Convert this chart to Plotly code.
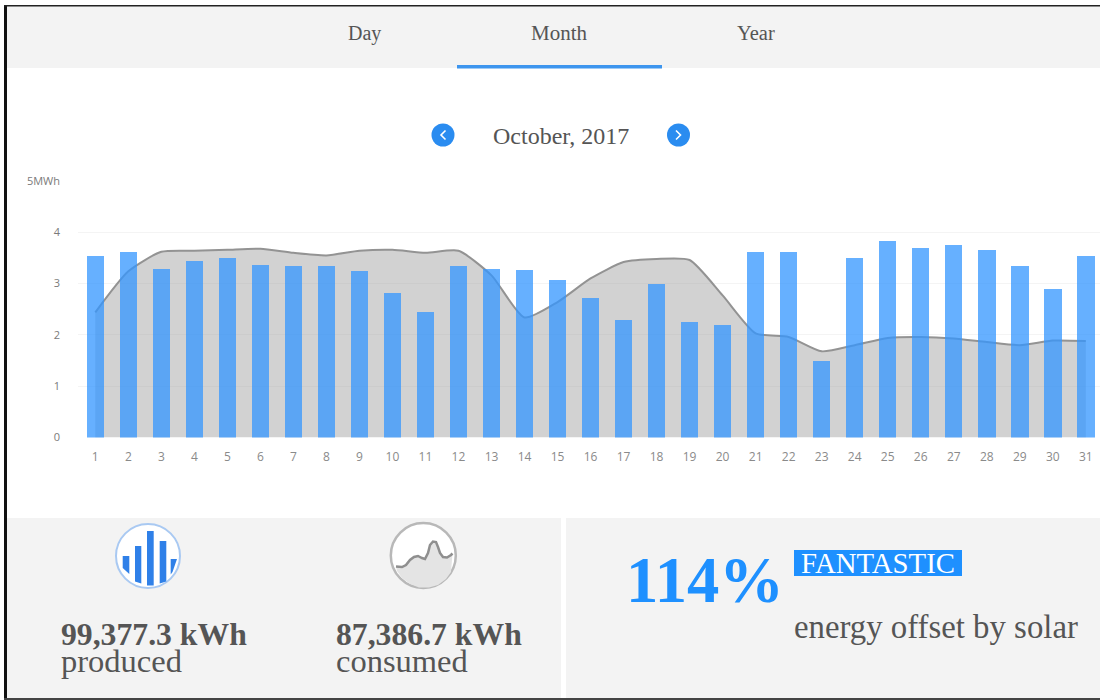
import plotly.graph_objects as go

days = list(range(1, 32))
produced_mwh = [3.53, 3.62, 3.28, 3.44, 3.49, 3.37, 3.35, 3.35, 3.24, 2.81, 2.44, 3.35, 3.28, 3.26, 3.08, 2.71,
                2.30, 3.00, 2.26, 2.19, 3.61, 3.62, 1.50, 3.50, 3.83, 3.69, 3.76, 3.65, 3.35, 2.90, 3.53]
consumed_mwh = [2.44, 3.24, 3.62, 3.64, 3.66, 3.68, 3.60, 3.55, 3.64, 3.66, 3.60, 3.64, 3.16, 2.34, 2.64, 3.10,
                3.42, 3.48, 3.46, 2.77, 2.03, 1.96, 1.68, 1.80, 1.94, 1.96, 1.93, 1.86, 1.80, 1.89, 1.88]
y_ticks = [0, 1, 2, 3, 4, 5]
y_tick_labels = ["0", "1", "2", "3", "4", "5MWh"]
tabs = ["Day", "Month", "Year"]
period = "October, 2017"
produced_text = "99,377.3 kWh"
consumed_text = "87,386.7 kWh"
offset_text = "114%"

W, H = 1100, 700
SERIF = "Liberation Serif"
SANS = "Open Sans"
TXT = "#555555"
BLUE = "#2a8cf0"
BRIGHT = "#1e90ff"


def fx(x):
    return x / W


def fy(y):
    return 1 - y / H


def rect(x0, y0, x1, y1, color):
    return dict(type="rect", xref="paper", yref="paper", x0=fx(x0), x1=fx(x1), y0=fy(y0), y1=fy(y1),
                fillcolor=color, line_width=0, layer="below")


def circle(cx, cy, r, fill, line, lw):
    return dict(type="circle", xref="paper", yref="paper", x0=fx(cx - r), x1=fx(cx + r), y0=fy(cy + r), y1=fy(cy - r),
                fillcolor=fill, line=dict(color=line, width=lw), layer="below")


def path(points, fill=None, line=None, lw=0, close=False):
    d = "M" + " L".join(f"{fx(x):.5f},{fy(y):.5f}" for x, y in points) + (" Z" if close else "")
    s = dict(type="path", xref="paper", yref="paper", path=d, layer="below", line=dict(width=lw))
    if fill:
        s["fillcolor"] = fill
    if line:
        s["line"] = dict(color=line, width=lw)
    return s


def text(x, y, s, size, color=TXT, anchor="left", bold=False, font=SERIF):
    return dict(xref="paper", yref="paper", x=fx(x), y=fy(y), text=f"<b>{s}</b>" if bold else s, showarrow=False,
                xanchor=anchor, yanchor="middle", font=dict(family=font, size=size, color=color), borderpad=0, borderwidth=0)


fig = go.Figure()
fig.add_trace(go.Scatter(x=days, y=consumed_mwh, mode="lines", name="consumed", fill="tozeroy",
                         fillcolor="rgba(160,160,160,0.48)", line=dict(color="#939393", width=2, shape="spline", smoothing=0.6),
                         hoverinfo="skip", showlegend=False))
fig.add_trace(go.Bar(x=days, y=produced_mwh, name="produced", yaxis="y2", width=0.53,
                     marker=dict(color="rgba(51,150,255,0.75)", line_width=0), hoverinfo="skip", showlegend=False))

shapes = [
    rect(0, 0, W, H, "#ffffff"),
    rect(7, 6, W, 68, "#f3f3f3"),
    rect(457, 65, 662, 68.5, "#3d95ee"),
    rect(7, 518, 561, 698, "#f3f3f3"),
    rect(566, 518, W, 698, "#f3f3f3"),
    rect(4, 5, 7, H, "#111111"),
    rect(4, 5, W, 6.5, "#222222"),
    rect(4, 698, W, H, "#444444"),
    circle(443, 135, 11.5, BLUE, BLUE, 0),
    circle(678.5, 135, 11.5, BLUE, BLUE, 0),
    path([(445.5, 130.5), (441, 135), (445.5, 139.5)], line="#ffffff", lw=1.6),
    path([(676, 130.5), (680.5, 135), (676, 139.5)], line="#ffffff", lw=1.6),
    # produced icon
    circle(148, 556, 32, "#ffffff", "#a9c9f2", 2),
]
icon_bars = [[(122.7, 556), (129.3, 556), (129.3, 574), (122.7, 568)],
             [(135, 546), (141.3, 546), (141.3, 583.5), (135, 581.5)],
             [(147, 531), (153.7, 531), (153.7, 585.5), (147, 585.5)],
             [(159.7, 541), (166.3, 541), (166.3, 581.5), (159.7, 583.5)],
             [(170.7, 559), (177, 559), (172.5, 572), (170.7, 574.5)]]
for b in icon_bars:
    shapes.append(path(b, fill="#2f80e8", close=True))

# consumed icon
curve = [(396, 566.5), (402, 567), (406, 565), (410, 560), (414, 557), (418, 556), (422, 558), (425, 559),
         (428, 553), (430, 545), (433, 541.5), (436, 542), (438, 547), (440, 553), (443, 557), (447, 557.5), (451, 555), (452.5, 553.5)]
bottom = [(451, 572), (446, 579), (438, 585), (429, 587.5), (419, 587.5), (410, 584), (402, 578), (397, 571)]
shapes.append(circle(423.3, 555.5, 32.5, "#ffffff", "#b8b8b8", 2.5))
shapes.append(path(curve + bottom, fill="#e4e4e4", close=True))
shapes.append(path(curve, line="#8f8f8f", lw=2.5))
shapes.append(rect(794, 550, 962, 576, BRIGHT))

annotations = [
    text(364, 33, tabs[0], 20, anchor="center"),
    text(559, 33, tabs[1], 21, anchor="center"),
    text(756, 33, tabs[2], 20.5, anchor="center"),
    text(560.5, 136, period, 24, anchor="center"),
    text(61, 634, produced_text, 31.7, bold=True),
    text(61, 661, "produced", 32.5),
    text(336, 634, consumed_text, 31.7, bold=True),
    text(336, 661, "consumed", 32.5),
    text(626, 580, offset_text, 64.6, color=BRIGHT, bold=True),
    text(801, 563, "FANTASTIC", 28.8, color="#ffffff"),
    text(794, 627, "energy offset by solar", 32.8),
]

fig.update_layout(
    width=W, height=H, autosize=False, margin=dict(l=0, r=0, t=0, b=0),
    paper_bgcolor="#ffffff", plot_bgcolor="rgba(0,0,0,0)", showlegend=False, bargap=0,
    shapes=shapes, annotations=annotations,
    xaxis=dict(domain=[78 / W, 1], range=[0.476, 31.43], tickmode="array", tickvals=days, ticktext=[str(d) for d in days],
               showgrid=False, zeroline=False, showline=False, ticks="", ticklabelstandoff=10, automargin=False,
               tickfont=dict(family=SANS, size=12, color="#8a8a8a")),
    yaxis=dict(domain=[1 - 437.5 / H, 1 - 181 / H], range=[0, 5], tickmode="array", tickvals=y_ticks, ticktext=y_tick_labels,
               showgrid=True, gridcolor="#f4f4f4", gridwidth=1, zeroline=False, showline=False, ticks="", ticklabelstandoff=17,
               automargin=False, tickfont=dict(family=SANS, size=11, color="#7a7a7a")),
    yaxis2=dict(overlaying="y", range=[0, 5], visible=False, side="left", automargin=False),
)
fig.write_html("out.html", config={"displayModeBar": False}, post_script="document.body.style.margin='0';")
